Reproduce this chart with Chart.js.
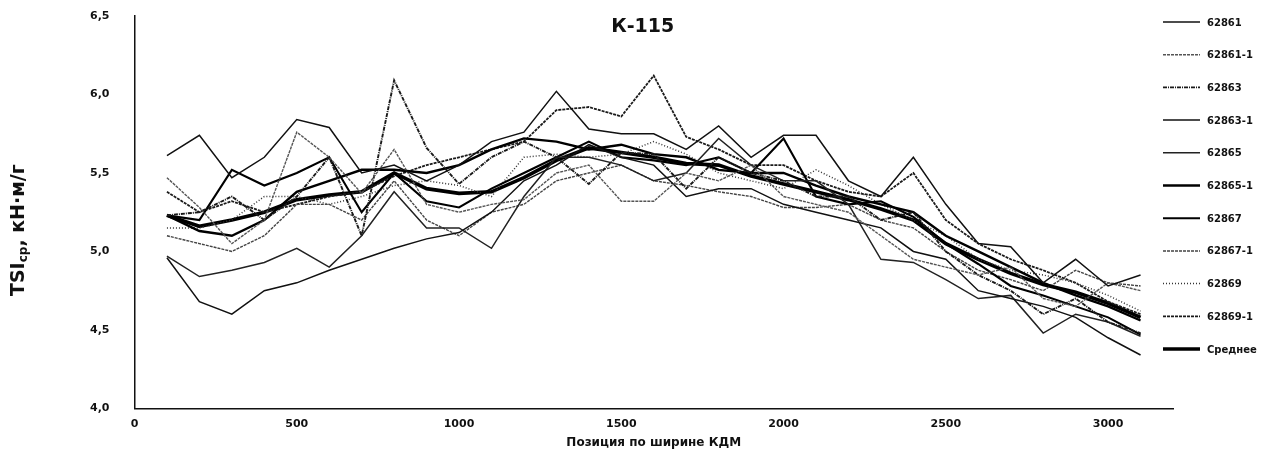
<!DOCTYPE html>
<html>
<head>
<meta charset="utf-8">
<script src="https://cdn.jsdelivr.net/npm/chart.js@4.4.1/dist/chart.umd.min.js"></script>
<style>
  body { margin: 0; background: #fff; }
  #wrap { width: 1285px; height: 473px; position: relative; }
</style>
</head>
<body>
<div id="wrap"><canvas id="lineChart"></canvas></div>
<script>
// Data ------------------------------------------------------------------------
const positions = [100, 200, 300, 400, 500, 600, 700, 800, 900, 1000, 1100, 1200, 1300, 1400, 1500, 1600,
  1700, 1800, 1900, 2000, 2100, 2200, 2300, 2400, 2500, 2600, 2700, 2800, 2900, 3000, 3100];

const xTicks = [0, 500, 1000, 1500, 2000, 2500, 3000];

const labels = ['62861', '62861-1', '62863', '62863-1', '62865', '62865-1', '62867', '62867-1', '62869', '62869-1', 'Среднее'];

const s62861 = [5.61, 5.74, 5.47, 5.60, 5.84, 5.79, 5.50, 5.55, 5.45, 5.55, 5.70, 5.76, 6.02, 5.78, 5.75, 5.75,
  5.65, 5.80, 5.60, 5.74, 5.74, 5.45, 5.35, 5.60, 5.30, 5.05, 5.03, 4.80, 4.95, 4.78, 4.85];
const s62861_1 = [5.47, 5.28, 5.05, 5.20, 5.76, 5.60, 5.37, 5.65, 5.30, 5.25, 5.30, 5.33, 5.50, 5.55, 5.32, 5.32,
  5.50, 5.45, 5.55, 5.35, 5.30, 5.25, 5.10, 4.95, 4.90, 4.85, 4.90, 4.70, 4.65, 4.80, 4.75];
const s62863 = [5.23, 5.25, 5.35, 5.20, 5.35, 5.60, 5.10, 6.09, 5.66, 5.43, 5.60, 5.70, 5.60, 5.43, 5.63, 5.62,
  5.40, 5.60, 5.50, 5.45, 5.35, 5.35, 5.20, 5.25, 5.00, 4.85, 4.75, 4.60, 4.70, 4.55, 4.48];
const s62863_1 = [4.96, 4.68, 4.60, 4.75, 4.80, 4.88, 4.95, 5.02, 5.08, 5.12, 5.25, 5.45, 5.55, 5.68, 5.60, 5.55,
  5.35, 5.40, 5.40, 5.30, 5.25, 5.20, 5.15, 5.00, 4.95, 4.75, 4.70, 4.65, 4.58, 4.45, 4.34];
const s62865 = [4.97, 4.84, 4.88, 4.93, 5.02, 4.90, 5.10, 5.38, 5.15, 5.15, 5.02, 5.35, 5.60, 5.60, 5.55, 5.45,
  5.50, 5.72, 5.55, 5.45, 5.45, 5.30, 4.95, 4.93, 4.82, 4.70, 4.72, 4.48, 4.60, 4.55, 4.46];
const s62865_1 = [5.23, 5.13, 5.10, 5.20, 5.38, 5.45, 5.52, 5.52, 5.50, 5.55, 5.65, 5.72, 5.70, 5.65, 5.68, 5.62,
  5.60, 5.52, 5.50, 5.50, 5.42, 5.35, 5.30, 5.25, 5.10, 5.00, 4.90, 4.80, 4.72, 4.65, 4.56];
const s62867 = [5.23, 5.20, 5.52, 5.42, 5.50, 5.60, 5.25, 5.50, 5.32, 5.28, 5.40, 5.50, 5.60, 5.70, 5.60, 5.58,
  5.55, 5.60, 5.50, 5.72, 5.35, 5.30, 5.32, 5.22, 5.05, 4.92, 4.78, 4.72, 4.65, 4.58, 4.47];
const s62867_1 = [5.10, 5.05, 5.00, 5.10, 5.30, 5.30, 5.20, 5.45, 5.20, 5.10, 5.25, 5.30, 5.45, 5.50, 5.55, 5.45,
  5.42, 5.38, 5.35, 5.28, 5.28, 5.30, 5.20, 5.15, 5.00, 4.88, 4.82, 4.75, 4.88, 4.80, 4.78];
const s62869 = [5.15, 5.15, 5.20, 5.35, 5.35, 5.30, 5.35, 5.42, 5.45, 5.42, 5.35, 5.60, 5.62, 5.60, 5.62, 5.70,
  5.62, 5.50, 5.45, 5.40, 5.52, 5.42, 5.30, 5.20, 5.10, 4.95, 4.88, 4.85, 4.80, 4.72, 4.62];
const s62869_1 = [5.38, 5.25, 5.32, 5.25, 5.30, 5.35, 5.38, 5.48, 5.55, 5.60, 5.65, 5.70, 5.90, 5.92, 5.86, 6.12,
  5.73, 5.65, 5.55, 5.55, 5.45, 5.38, 5.35, 5.50, 5.20, 5.05, 4.95, 4.88, 4.80, 4.68, 4.60];
const average = [5.23, 5.16, 5.20, 5.25, 5.33, 5.36, 5.38, 5.50, 5.40, 5.37, 5.38, 5.47, 5.58, 5.66, 5.63, 5.60,
  5.56, 5.55, 5.48, 5.43, 5.38, 5.33, 5.27, 5.20, 5.05, 4.95, 4.86, 4.79, 4.74, 4.67, 4.58];

const seriesValues = [s62861, s62861_1, s62863, s62863_1, s62865, s62865_1, s62867, s62867_1, s62869, s62869_1, average];

// Line looks, same order as labels
const lineColors = ['#111111', '#555555', '#1a1a1a', '#111111', '#222222', '#000000', '#000000', '#444444', '#333333', '#1a1a1a', '#000000'];
const lineWidths = [1.5, 1.4, 1.9, 1.5, 1.5, 2.4, 2.1, 1.4, 1.5, 1.8, 3.6];
const lineDashes = [[], [3, 1], [4, 1, 1, 1], [], [], [], [], [3, 1], [1, 2], [3, 1], []];

// Functions start---------------------------------------------------------------
function toPoints(values) {
  return values.map((v, i) => ({ x: positions[i], y: v }))
}

function commaNumber(value) {
  return value.toFixed(1).replace('.', ',')
}

//Title, y axis title with subscript and the legend on the right
const extraText = {
  id: 'extraText',
  afterDraw(chart) {
    const { ctx, chartArea } = chart;
    ctx.save();
    ctx.fillStyle = '#111';
    ctx.textAlign = 'center';
    ctx.textBaseline = 'middle';
    ctx.font = 'bold 19px "DejaVu Sans"';
    ctx.fillText('К-115', (chartArea.left + chartArea.right) / 2 - 11, chartArea.top + 11);

    // legend
    const step = (chartArea.bottom - chartArea.top) / 12;
    chart.data.datasets.forEach((ds, i) => {
      const y = chartArea.top + 6 + i * step;
      ctx.beginPath();
      ctx.setLineDash(ds.borderDash);
      ctx.lineWidth = Math.max(ds.borderWidth, 1.5);
      ctx.strokeStyle = ds.borderColor;
      ctx.moveTo(chartArea.right - 10, y);
      ctx.lineTo(chartArea.right + 27, y);
      ctx.stroke();
      ctx.setLineDash([]);
      ctx.font = 'bold 10px "DejaVu Sans"';
      ctx.textAlign = 'left';
      ctx.fillText(ds.label, chartArea.right + 34, y + 1);
    });

    // y axis title, rotated
    const big = 'bold 19px "DejaVu Sans"';
    const small = 'bold 12px "DejaVu Sans"';
    const parts = [['TSI', big, 0], ['ср', small, 5], [', кН·м/г', big, 0]];
    let total = 0;
    parts.forEach(p => { ctx.font = p[1]; total += ctx.measureText(p[0]).width });
    ctx.translate(19, (chartArea.top + chartArea.bottom) / 2 + 18);
    ctx.rotate(-Math.PI / 2);
    let x = -total / 2;
    parts.forEach(p => {
      ctx.font = p[1];
      ctx.fillText(p[0], x, p[2]);
      x += ctx.measureText(p[0]).width;
    });
    ctx.restore();
  }
};

function renderLineChart() {
  const ctx = document.getElementById('lineChart');

  const datasets = labels.map((label, i) => ({
    label: label,
    data: toPoints(seriesValues[i]),
    borderColor: lineColors[i],
    backgroundColor: lineColors[i],
    borderWidth: lineWidths[i],
    borderDash: lineDashes[i],
    pointRadius: 0,
    tension: 0,
    fill: false
  }));

  new Chart(ctx, {
    type: 'line',
    data: { datasets: datasets },
    plugins: [extraText],
    options: {
      responsive: true,
      maintainAspectRatio: false,
      animation: false,
      devicePixelRatio: 1,
      layout: { padding: { left: 65, top: 16, bottom: 23, right: 112 } },
      plugins: {
        legend: { display: false },
        tooltip: { enabled: false }
      },
      scales: {
        x: {
          type: 'linear',
          min: 0,
          max: 3200,
          afterBuildTicks: axis => { axis.ticks = xTicks.map(v => ({ value: v })) },
          grid: { drawOnChartArea: false, drawTicks: false },
          border: { color: '#111', width: 1.5 },
          ticks: {
            padding: 9,
            maxRotation: 0,
            color: '#111',
            font: { family: 'DejaVu Sans', size: 11, weight: 'bold' },
            callback: (value) => String(value)
          },
          title: {
            display: true,
            text: 'Позиция по ширине КДМ',
            color: '#111',
            padding: { top: -4, bottom: 0 },
            font: { family: 'DejaVu Sans', size: 12, weight: 'bold' }
          }
        },
        y: {
          min: 4,
          max: 6.5,
          afterFit: scale => { scale.paddingTop = 7; scale.paddingBottom = 7 },
          grid: { drawOnChartArea: false, drawTicks: false },
          border: { color: '#111', width: 1.5 },
          ticks: {
            stepSize: 0.5,
            padding: 25,
            color: '#111',
            font: { family: 'DejaVu Sans', size: 11, weight: 'bold' },
            callback: (value) => commaNumber(value)
          }
        }
      }
    }
  });
}
//Functions end-----------------------------------------------------------------

renderLineChart();
</script>
</body>
</html>
